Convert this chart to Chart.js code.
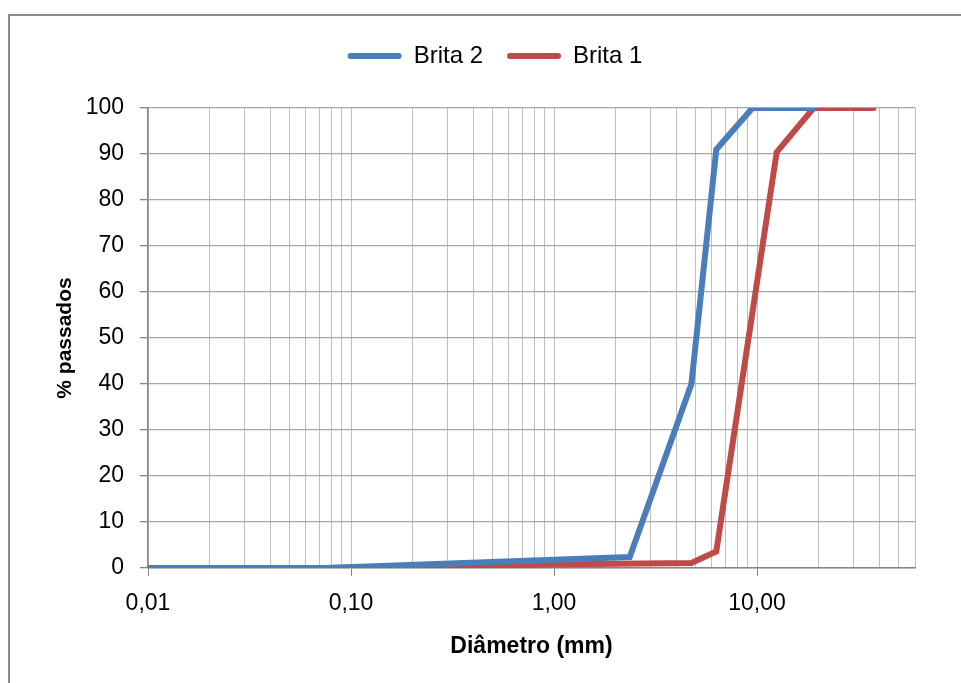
<!DOCTYPE html>
<html>
<head>
<meta charset="utf-8">
<script src="https://cdn.jsdelivr.net/npm/chart.js@4/dist/chart.umd.min.js"></script>
<style>
  html, body { margin: 0; padding: 0; background: #fff; overflow: hidden; }
  #frame { position: absolute; left: 8px; top: 14px; width: 2000px; height: 2000px;
           border-left: 2px solid #8c8c8c; border-top: 2px solid #8c8c8c; }
  #wrap { position: absolute; left: 0; top: 0; width: 961px; height: 683px; }
</style>
</head>
<body>
<div id="frame"></div>
<div id="wrap"><canvas id="chart"></canvas></div>
<script>
// --- dados (curva granulométrica) ---
const brita2Diam = [0.01, 0.075, 2.36, 4.75, 6.3, 9.5, 19];
const brita2Pass = [0, 0, 2.4, 40, 91, 100, 100];
const brita1Diam = [0.01, 0.075, 1.18, 4.75, 6.3, 12.5, 19, 37.5];
const brita1Pass = [0, 0, 0.8, 1.1, 3.6, 90.4, 100, 100];

const xMajor = [0.01, 0.1, 1, 10];
const xMajorLabels = ['0,01', '0,10', '1,00', '10,00'];
const yTicks = [0, 10, 20, 30, 40, 50, 60, 70, 80, 90, 100];

const BLUE = '#4A7EBB', RED = '#BE4B48';
const FONT = "'Liberation Sans', Arial, sans-serif";

// linhas de grade do eixo log: 1..9 em cada década, até 60
const xGrid = [];
xMajor.forEach(d => { for (let m = 1; m <= 9; m++) { const v = +(d * m).toPrecision(3); if (v <= 60) xGrid.push(v); } });

const pts = (xs, ys) => xs.map((x, i) => ({ x, y: ys[i] }));
const isMajor = v => xMajor.some(m => Math.abs(m - v) < 1e-9);

const serie = (label, data, color) => ({
  label, data,
  showLine: true,
  borderColor: color, backgroundColor: color,
  borderWidth: 6, pointRadius: 0, pointHoverRadius: 0,
  borderCapStyle: 'round', borderJoinStyle: 'miter',
  tension: 0
});

// espaço extra entre a legenda e a área do gráfico
const legendGap = {
  id: 'legendGap',
  beforeInit(chart) {
    const fit = chart.legend.fit;
    chart.legend.fit = function () { fit.bind(chart.legend)(); this.height += 30; };
  }
};

new Chart(document.getElementById('chart'), {
  type: 'scatter',
  data: {
    datasets: [
      serie('Brita 2', pts(brita2Diam, brita2Pass), BLUE),
      serie('Brita 1', pts(brita1Diam, brita1Pass), RED)
    ]
  },
  plugins: [legendGap],
  options: {
    responsive: true, maintainAspectRatio: false, animation: false,
    layout: { padding: { left: 75, right: 46, top: 20, bottom: 0 } },
    plugins: {
      tooltip: { enabled: false },
      legend: {
        position: 'top', align: 'center',
        labels: {
          color: '#000', font: { family: FONT, size: 24 },
          boxWidth: 54, boxHeight: 6, useBorderRadius: true, borderRadius: 3,
          padding: 24,
          generateLabels: chart => chart.data.datasets.map((ds, i) => ({
            text: ds.label, fillStyle: ds.borderColor, strokeStyle: ds.borderColor,
            lineWidth: 0, datasetIndex: i, hidden: false, fontColor: '#000',
            borderRadius: 3
          }))
        }
      }
    },
    scales: {
      x: {
        type: 'logarithmic', min: 0.01, max: 60,
        afterBuildTicks: s => { s.ticks = xGrid.map(v => ({ value: v, major: isMajor(v) })); },
        afterFit: s => { s.height = 115; },
        ticks: {
          autoSkip: false, maxRotation: 0, minRotation: 0, padding: 14,
          color: '#000', font: { family: FONT, size: 23 },
          callback: v => { const k = xMajor.findIndex(m => Math.abs(m - v) < 1e-9); return k >= 0 ? xMajorLabels[k] : ''; }
        },
        grid: {
          color: '#BFBFBF', lineWidth: 1, tickLength: 8,
          tickColor: c => (c.tick && isMajor(c.tick.value)) ? '#868686' : 'rgba(0,0,0,0)'
        },
        border: { color: '#868686', width: 1.5 },
        title: {
          display: true, text: 'Diâmetro (mm)', color: '#000',
          font: { family: FONT, size: 23, weight: 'bold' }, padding: { top: 0, bottom: 23 }
        }
      },
      y: {
        min: 0, max: 100,
        afterBuildTicks: s => { s.ticks = yTicks.map(v => ({ value: v })); },
        afterFit: s => { s.width = 73; },
        ticks: { padding: 16, color: '#000', font: { family: FONT, size: 23 } },
        grid: { color: '#A6A6A6', lineWidth: 1.3, tickLength: 8, tickColor: '#868686' },
        border: { color: '#868686', width: 1.5 },
        title: {
          display: true, text: '% passados', color: '#000',
          font: { family: FONT, size: 21, weight: 'bold' }, padding: { top: -22, bottom: 0 }
        }
      }
    }
  }
});
</script>
</body>
</html>
